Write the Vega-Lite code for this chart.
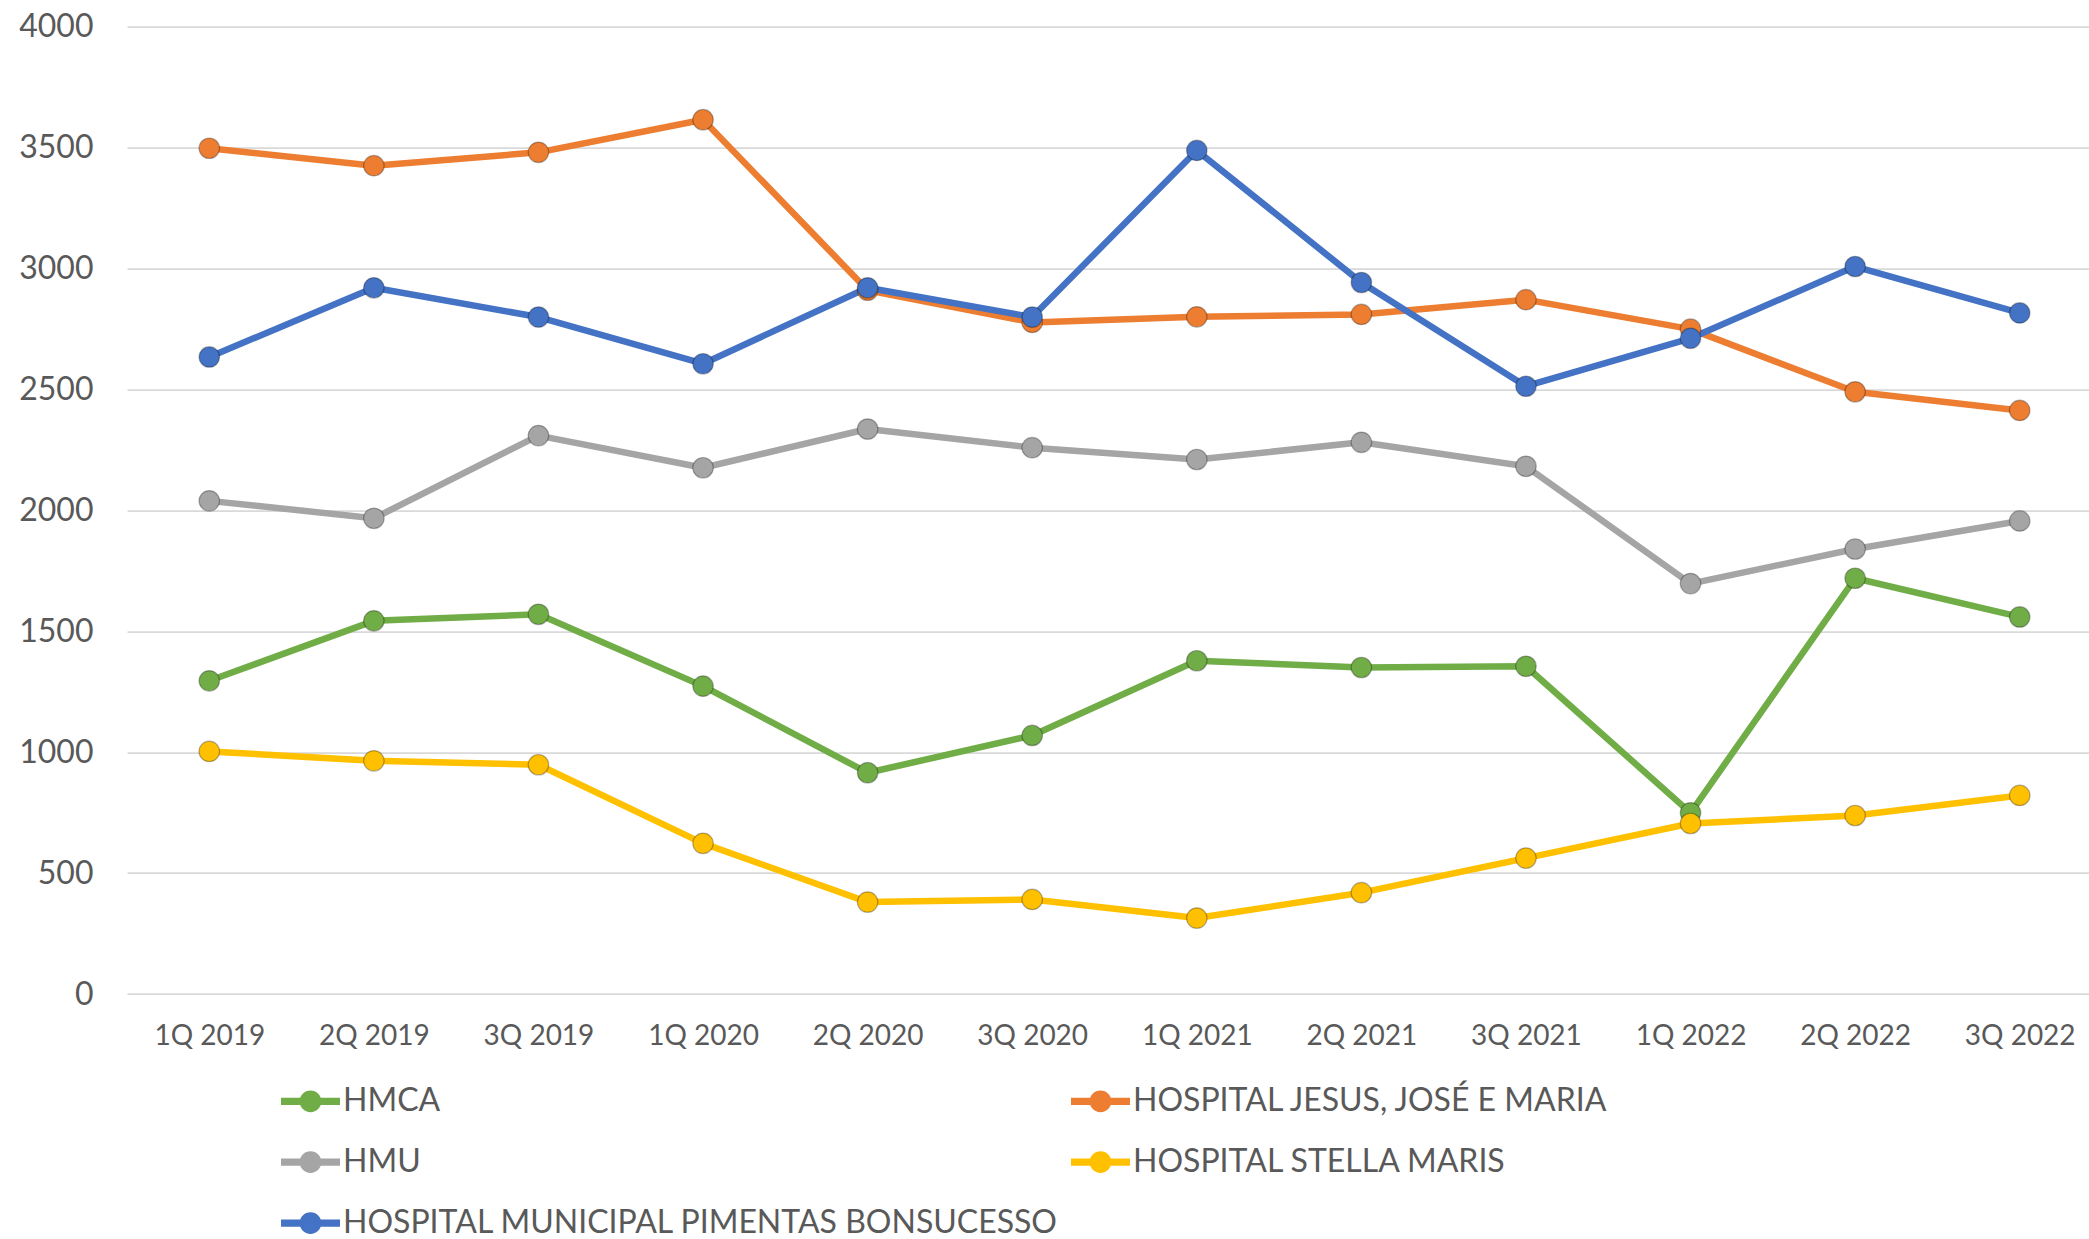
{
  "$schema": "https://vega.github.io/schema/vega-lite/v6.json",
  "autosize": {"type": "none"},
  "width": 1975,
  "height": 967.4,
  "padding": {"left": 127, "top": 26.6, "right": 0, "bottom": 245},
  "background": "#ffffff",
  "config": {
    "view": {"stroke": null},
    "font": "Lato",
    "axis": {"labelColor": "#595959", "labelFont": "Lato"},
    "legend": {"labelFont": "Lato"}
  },
  "data": {
    "values": [
      {"q": "1Q 2019", "h": "HMCA", "v": 1295},
      {"q": "2Q 2019", "h": "HMCA", "v": 1543},
      {"q": "3Q 2019", "h": "HMCA", "v": 1570},
      {"q": "1Q 2020", "h": "HMCA", "v": 1273},
      {"q": "2Q 2020", "h": "HMCA", "v": 915},
      {"q": "3Q 2020", "h": "HMCA", "v": 1069},
      {"q": "1Q 2021", "h": "HMCA", "v": 1378},
      {"q": "2Q 2021", "h": "HMCA", "v": 1350},
      {"q": "3Q 2021", "h": "HMCA", "v": 1355},
      {"q": "1Q 2022", "h": "HMCA", "v": 749},
      {"q": "2Q 2022", "h": "HMCA", "v": 1719},
      {"q": "3Q 2022", "h": "HMCA", "v": 1559},
      {"q": "1Q 2019", "h": "HOSPITAL JESUS, JOSÉ E MARIA", "v": 3497},
      {"q": "2Q 2019", "h": "HOSPITAL JESUS, JOSÉ E MARIA", "v": 3425},
      {"q": "3Q 2019", "h": "HOSPITAL JESUS, JOSÉ E MARIA", "v": 3480},
      {"q": "1Q 2020", "h": "HOSPITAL JESUS, JOSÉ E MARIA", "v": 3615},
      {"q": "2Q 2020", "h": "HOSPITAL JESUS, JOSÉ E MARIA", "v": 2910},
      {"q": "3Q 2020", "h": "HOSPITAL JESUS, JOSÉ E MARIA", "v": 2777},
      {"q": "1Q 2021", "h": "HOSPITAL JESUS, JOSÉ E MARIA", "v": 2800},
      {"q": "2Q 2021", "h": "HOSPITAL JESUS, JOSÉ E MARIA", "v": 2810},
      {"q": "3Q 2021", "h": "HOSPITAL JESUS, JOSÉ E MARIA", "v": 2871},
      {"q": "1Q 2022", "h": "HOSPITAL JESUS, JOSÉ E MARIA", "v": 2749},
      {"q": "2Q 2022", "h": "HOSPITAL JESUS, JOSÉ E MARIA", "v": 2490},
      {"q": "3Q 2022", "h": "HOSPITAL JESUS, JOSÉ E MARIA", "v": 2413},
      {"q": "1Q 2019", "h": "HMU", "v": 2039},
      {"q": "2Q 2019", "h": "HMU", "v": 1967},
      {"q": "3Q 2019", "h": "HMU", "v": 2309},
      {"q": "1Q 2020", "h": "HMU", "v": 2176},
      {"q": "2Q 2020", "h": "HMU", "v": 2336},
      {"q": "3Q 2020", "h": "HMU", "v": 2259},
      {"q": "1Q 2021", "h": "HMU", "v": 2210},
      {"q": "2Q 2021", "h": "HMU", "v": 2281},
      {"q": "3Q 2021", "h": "HMU", "v": 2182},
      {"q": "1Q 2022", "h": "HMU", "v": 1697},
      {"q": "2Q 2022", "h": "HMU", "v": 1840},
      {"q": "3Q 2022", "h": "HMU", "v": 1956},
      {"q": "1Q 2019", "h": "HOSPITAL STELLA MARIS", "v": 1003},
      {"q": "2Q 2019", "h": "HOSPITAL STELLA MARIS", "v": 964},
      {"q": "3Q 2019", "h": "HOSPITAL STELLA MARIS", "v": 948},
      {"q": "1Q 2020", "h": "HOSPITAL STELLA MARIS", "v": 623},
      {"q": "2Q 2020", "h": "HOSPITAL STELLA MARIS", "v": 380},
      {"q": "3Q 2020", "h": "HOSPITAL STELLA MARIS", "v": 391},
      {"q": "1Q 2021", "h": "HOSPITAL STELLA MARIS", "v": 314},
      {"q": "2Q 2021", "h": "HOSPITAL STELLA MARIS", "v": 419},
      {"q": "3Q 2021", "h": "HOSPITAL STELLA MARIS", "v": 562},
      {"q": "1Q 2022", "h": "HOSPITAL STELLA MARIS", "v": 705},
      {"q": "2Q 2022", "h": "HOSPITAL STELLA MARIS", "v": 738},
      {"q": "3Q 2022", "h": "HOSPITAL STELLA MARIS", "v": 821},
      {"q": "1Q 2019", "h": "HOSPITAL MUNICIPAL PIMENTAS BONSUCESSO", "v": 2634},
      {"q": "2Q 2019", "h": "HOSPITAL MUNICIPAL PIMENTAS BONSUCESSO", "v": 2920},
      {"q": "3Q 2019", "h": "HOSPITAL MUNICIPAL PIMENTAS BONSUCESSO", "v": 2799},
      {"q": "1Q 2020", "h": "HOSPITAL MUNICIPAL PIMENTAS BONSUCESSO", "v": 2606},
      {"q": "2Q 2020", "h": "HOSPITAL MUNICIPAL PIMENTAS BONSUCESSO", "v": 2920},
      {"q": "3Q 2020", "h": "HOSPITAL MUNICIPAL PIMENTAS BONSUCESSO", "v": 2799},
      {"q": "1Q 2021", "h": "HOSPITAL MUNICIPAL PIMENTAS BONSUCESSO", "v": 3488},
      {"q": "2Q 2021", "h": "HOSPITAL MUNICIPAL PIMENTAS BONSUCESSO", "v": 2942},
      {"q": "3Q 2021", "h": "HOSPITAL MUNICIPAL PIMENTAS BONSUCESSO", "v": 2513},
      {"q": "1Q 2022", "h": "HOSPITAL MUNICIPAL PIMENTAS BONSUCESSO", "v": 2711},
      {"q": "2Q 2022", "h": "HOSPITAL MUNICIPAL PIMENTAS BONSUCESSO", "v": 3008},
      {"q": "3Q 2022", "h": "HOSPITAL MUNICIPAL PIMENTAS BONSUCESSO", "v": 2816}
    ]
  },
  "encoding": {
    "x": {
      "field": "q", "type": "nominal", "sort": null,
      "scale": {"type": "point", "padding": 0.5},
      "axis": {"title": null, "ticks": false, "domain": false, "grid": false, "labelAngle": 0,
               "labelFontSize": 28, "labelPadding": 28, "labelColor": "#595959"}
    },
    "y": {
      "field": "v", "type": "quantitative",
      "scale": {"domain": [0, 4000], "nice": false, "zero": true},
      "axis": {"title": null, "values": [0, 500, 1000, 1500, 2000, 2500, 3000, 3500, 4000], "format": "d",
               "ticks": false, "domain": false, "grid": true, "gridColor": "#D9D9D9", "gridWidth": 1.6,
               "labelFontSize": 32, "labelPadding": 34, "labelColor": "#595959"}
    },
    "color": {
      "field": "h", "type": "nominal",
      "scale": {
        "domain": ["HMCA", "HMU", "HOSPITAL MUNICIPAL PIMENTAS BONSUCESSO", "HOSPITAL JESUS, JOSÉ E MARIA", "HOSPITAL STELLA MARIS"],
        "range": ["#70AD47", "#A5A5A5", "#4472C4", "#ED7D31", "#FFC000"]
      },
      "legend": {
        "title": null, "orient": "none", "legendX": 154, "legendY": 1045,
        "columns": 2, "columnPadding": 12, "rowPadding": 15, "padding": 0,
        "symbolType": "M-1,-0.12 H1 V0.12 H-1 Z M0.37,0 A0.37,0.37 0 1 1 -0.37,0 A0.37,0.37 0 1 1 0.37,0 Z",
        "symbolSize": 3481, "symbolStrokeWidth": 0, "labelOffset": 3,
        "labelFontSize": 32, "labelColor": "#595959", "labelLimit": 0,
        "encode": {"symbols": {"update": {"fill": {"scale": "color", "field": "value"}, "fillOpacity": {"value": 1}, "strokeWidth": {"value": 0}}}}
      }
    }
  },
  "layer": [
    {"mark": {"type": "line", "strokeWidth": 6.5, "strokeJoin": "round"}},
    {"mark": {"type": "point", "filled": true, "size": 420, "opacity": 1, "stroke": "#000000", "strokeOpacity": 0.3, "strokeWidth": 1.2}}
  ]
}
